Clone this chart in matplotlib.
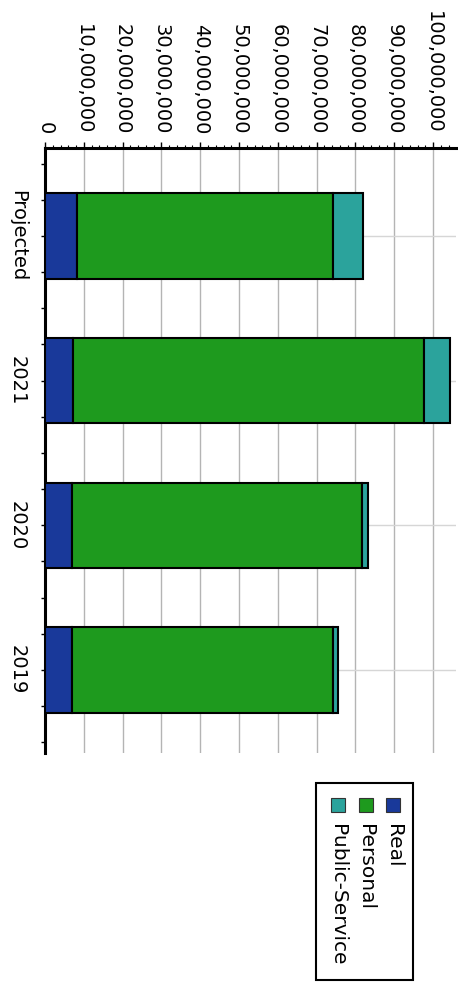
import matplotlib
matplotlib.use("Agg")
import matplotlib.pyplot as plt
from matplotlib.patches import Rectangle
from matplotlib.ticker import FuncFormatter, MultipleLocator
import numpy as np

categories = ["Projected", "2021", "2020", "2019"]
real = [8.2e6, 7.2e6, 6.9e6, 6.9e6]
personal = [66.0e6, 90.5e6, 74.7e6, 67.3e6]
public_service = [7.8e6, 6.7e6, 1.6e6, 1.3e6]
series_names = ["Real", "Personal", "Public-Service"]
colors = ["#19399a", "#1e9a1e", "#2ba39c"]

W, H = 458, 983


def px(x, y):
    # pixel position (from top-left) -> figure fraction
    return x / W, 1 - y / H


fig = plt.figure(figsize=(W / 100, H / 100), dpi=100)
ax = fig.add_axes([45 / W, 1 - 753 / H, (456 - 45) / W, (753 - 148) / H])

pos = np.arange(len(categories))
left = np.zeros(len(categories))
for vals, col in zip([real, personal, public_service], colors):
    ax.barh(pos, vals, left=left, height=0.59, color=col,
            edgecolor="black", linewidth=1.5, zorder=3)
    left = left + np.array(vals)

ax.set_xlim(0, 105.9e6)
ax.set_ylim(3.574, -0.608)

# value axis runs along the top, labels read downwards
ax.xaxis.tick_top()
ax.set_xticks(np.arange(0, 100e6 + 1, 10e6))
ax.xaxis.set_major_formatter(FuncFormatter(lambda v, p: f"{int(v):,}"))
ax.xaxis.set_minor_locator(MultipleLocator(2e6))
ax.tick_params(axis="x", which="major", labelsize=14, rotation=-90, length=4, width=1, pad=6)
ax.tick_params(axis="x", which="minor", length=2, width=0.8)

ax.set_yticks(pos)
ax.set_yticklabels(categories, rotation=-90, va="center")
ax.yaxis.set_minor_locator(MultipleLocator(0.25))
ax.tick_params(axis="y", which="major", labelsize=14, length=3, width=1, pad=10)
ax.tick_params(axis="y", which="minor", length=3, width=1)

ax.grid(axis="x", color="#b4b4b4", linewidth=1, zorder=0)
ax.grid(axis="y", color="#d6d6d6", linewidth=1, zorder=0)
ax.set_axisbelow(True)

for side in ["right", "bottom"]:
    ax.spines[side].set_visible(False)
for side in ["left", "top"]:
    ax.spines[side].set_linewidth(2.2)

# legend, drawn by hand so its text can be turned like the rest
x0, y0 = px(316, 980)
x1, y1 = px(413, 783)
fig.add_artist(Rectangle((x0, y0), x1 - x0, y1 - y0, transform=fig.transFigure,
                         facecolor="white", edgecolor="black", linewidth=1.5))
for name, col, cx in zip(series_names, colors, [393, 366, 338]):
    sx, sy = px(cx - 7, 812)
    fig.add_artist(Rectangle((sx, sy), 14 / W, 14 / H, transform=fig.transFigure,
                             facecolor=col, edgecolor="#333333", linewidth=0.8))
    tx, ty = px(cx, 824)
    fig.text(tx, ty, name, rotation=-90, ha="center", va="top", fontsize=14.5)

fig.savefig("out.png", dpi=100)
